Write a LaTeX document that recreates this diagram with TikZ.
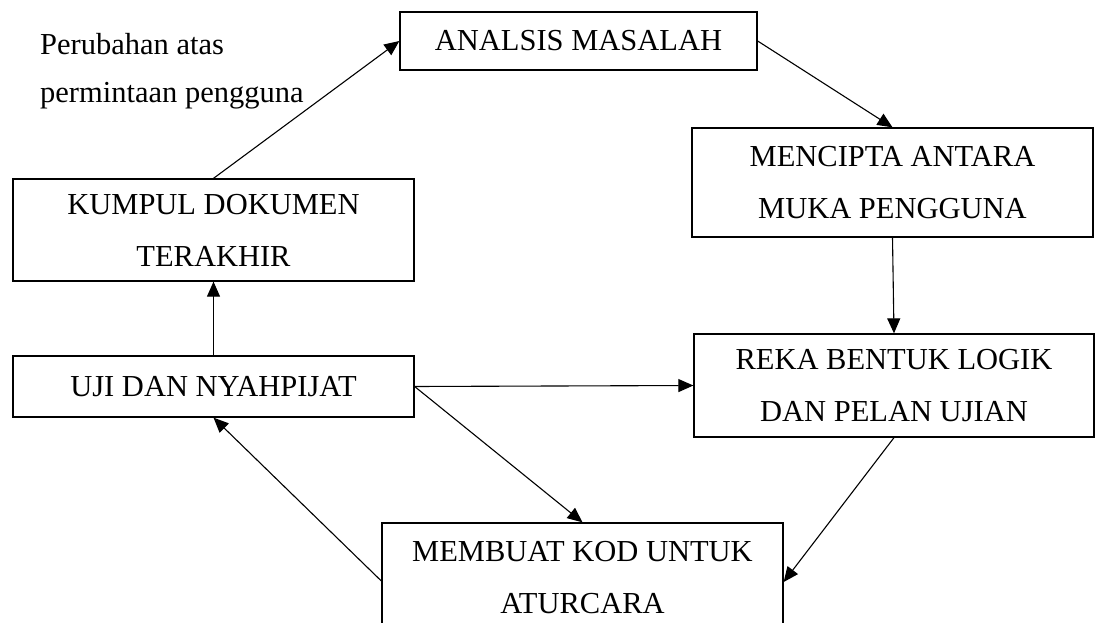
\documentclass[tikz,border=0pt]{standalone}
\usepackage{fontspec}
\setmainfont{Liberation Serif}
\usetikzlibrary{arrows.meta}
\begin{document}
\begin{tikzpicture}[x=1pt,y=-1pt,
  box/.style={draw,line width=1.3pt,inner sep=0pt,align=center,
    font=\fontsize{30.5}{52}\selectfont},
  conn/.style={line width=1.1pt,-{Triangle[length=15pt,width=13pt]}}]
\useasboundingbox (0,0) rectangle (1095,623);
\clip (0,0) rectangle (1095,623);
\node[box,minimum width=357pt,minimum height=58pt] (ana) at (578.5,41) {ANALSIS MASALAH};
\node[box,minimum width=401pt,minimum height=102pt] (kum) at (213.5,230) {KUMPUL DOKUMEN\\TERAKHIR};
\node[box,minimum width=401pt,minimum height=61pt] (uji) at (213.5,386.5) {UJI DAN NYAHPIJAT};
\node[box,minimum width=401pt,minimum height=109pt] (men) at (892.5,182.5) {MENCIPTA ANTARA\\MUKA PENGGUNA};
\node[box,minimum width=400pt,minimum height=103pt] (reka) at (894,385.5) {REKA BENTUK LOGIK\\DAN PELAN UJIAN};
\node[box,minimum width=401pt,minimum height=110pt] (mem) at (582.5,578) {MEMBUAT KOD UNTUK\\ATURCARA};
\node[anchor=north west,align=left,inner sep=0pt,font=\fontsize{30.5}{48}\selectfont] (note) at (40,33) {Perubahan atas\\permintaan pengguna};
\coordinate (memR) at ([yshift=-4pt]mem.east);
\coordinate (memL) at ([yshift=-3pt]mem.west);
\draw[conn] (kum.north) -- (ana.west);
\draw[conn] (ana.east) -- (men.north);
\draw[conn] (men.south) -- (reka.north);
\draw[conn] (reka.south) -- (memR);
\draw[conn] (uji.east) -- (reka.west);
\draw[conn] (uji.east) -- (mem.north);
\draw[conn] (memL) -- (uji.south);
\draw[conn] (uji.north) -- (kum.south);
\end{tikzpicture}
\end{document}
